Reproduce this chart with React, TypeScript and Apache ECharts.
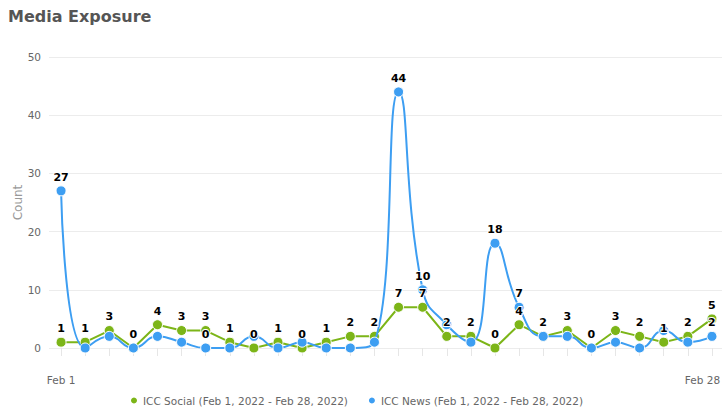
import React, { useEffect, useRef } from "react";
import * as echarts from "echarts";

const categories = [
  "Feb 1", "Feb 2", "Feb 3", "Feb 4", "Feb 5", "Feb 6", "Feb 7", "Feb 8", "Feb 9", "Feb 10",
  "Feb 11", "Feb 12", "Feb 13", "Feb 14", "Feb 15", "Feb 16", "Feb 17", "Feb 18", "Feb 19", "Feb 20",
  "Feb 21", "Feb 22", "Feb 23", "Feb 24", "Feb 25", "Feb 26", "Feb 27", "Feb 28",
];

const socialName = "ICC Social (Feb 1, 2022 - Feb 28, 2022)";
const newsName = "ICC News (Feb 1, 2022 - Feb 28, 2022)";

const socialValues = [1, 1, 3, 0, 4, 3, 3, 1, 0, 1, 0, 1, 2, 2, 7, 7, 2, 2, 0, 4, 2, 3, 0, 3, 2, 1, 2, 5];
const newsValues = [27, 0, 2, 0, 2, 1, 0, 0, 2, 0, 1, 0, 0, 1, 44, 10, 4, 1, 18, 7, 2, 2, 0, 1, 0, 3, 1, 2];

// indices of News points whose value label is visible in the reference
const newsLabelIndices = [0, 6, 14, 15, 18, 19, 27];

const yTicks = [0, 10, 20, 30, 40, 50];

const GREEN = "#7cb518";
const BLUE = "#3d9ef2";
const FONT = "DejaVu Sans";

export default function App() {
  const ref = useRef<HTMLDivElement>(null);

  useEffect(() => {
    if (!ref.current) return;
    const chart = echarts.init(ref.current, undefined, { renderer: "svg" });
    const labelStyle = {
      show: true,
      position: "top" as const,
      distance: 8,
      fontSize: 11,
      fontWeight: "bold" as const,
      color: "#000000",
      opacity: 1,
      textBorderColor: "#ffffff",
      textBorderWidth: 2,
      fontFamily: FONT,
    };
    const lastIndex = categories.length - 1;
    const labelSeries = (values: number[], visible: (i: number) => boolean) => ({
      type: "scatter",
      silent: true,
      symbol: "circle",
      symbolSize: 0.1,
      itemStyle: { color: "#ffffff", opacity: 1 },
      data: values.map((v, i) => ({ value: v, label: { show: visible(i) } })),
      label: labelStyle,
      z: 10,
      tooltip: { show: false },
    });
    chart.setOption({
      animation: false,
      textStyle: { fontFamily: FONT },
      title: {
        text: "Media Exposure",
        left: 8,
        top: 8,
        padding: 0,
        textStyle: { fontSize: 16, fontWeight: "bold", color: "#555", fontFamily: FONT },
      },
      legend: {
        left: 129,
        top: 395,
        padding: 0,
        icon: "circle",
        itemWidth: 8,
        itemHeight: 8,
        itemGap: 19,
        textStyle: { fontSize: 10.5, color: "#666", fontFamily: FONT },
        data: [socialName, newsName],
      },
      grid: {
        left: 49,
        top: 57,
        width: 675,
        height: 291,
        containLabel: false,
        outerBoundsMode: "none",
      },
      xAxis: {
        type: "category",
        data: categories,
        boundaryGap: true,
        axisLine: { show: false },
        axisTick: {
          show: true,
          alignWithLabel: true,
          interval: 0,
          length: 8,
          lineStyle: { color: "#e6e6e6" },
        },
        axisLabel: {
          interval: (i: number) => i === 0 || i === lastIndex,
          hideOverlap: false,
          margin: 26,
          fontSize: 10.5,
          color: "#666",
          fontFamily: FONT,
          formatter: (value: string, index: number) =>
            index === lastIndex ? `{last|${value}}` : value,
          rich: {
            last: {
              fontSize: 10.5,
              color: "#666",
              fontFamily: FONT,
              padding: [0, 19, 0, 0],
            },
          },
        },
        splitLine: { show: false },
      },
      yAxis: {
        type: "value",
        min: yTicks[0],
        max: yTicks[yTicks.length - 1],
        interval: 10,
        name: "Count",
        nameLocation: "middle",
        nameGap: 25,
        nameMoveOverlap: false,
        nameTextStyle: { fontSize: 12, color: "#999", fontFamily: FONT },
        axisLine: { show: false },
        axisTick: { show: false },
        axisLabel: { margin: 8, fontSize: 10.5, color: "#666", fontFamily: FONT },
        splitLine: { lineStyle: { color: "#ececec" } },
      },
      series: [
        {
          name: socialName,
          type: "line",
          data: socialValues,
          color: GREEN,
          symbol: "circle",
          symbolSize: 10,
          lineStyle: { width: 2, color: GREEN },
          itemStyle: { color: GREEN, borderColor: "#fff", borderWidth: 1 },
          label: { show: false },
          z: 2,
        },
        {
          name: newsName,
          type: "line",
          smooth: true,
          data: newsValues,
          color: BLUE,
          symbol: "circle",
          symbolSize: 10,
          lineStyle: { width: 2, color: BLUE },
          itemStyle: { color: BLUE, borderColor: "#fff", borderWidth: 1 },
          label: { show: false },
          z: 3,
        },
        labelSeries(socialValues, () => true),
        labelSeries(newsValues, (i) => newsLabelIndices.includes(i)),
      ],
    });
    return () => chart.dispose();
  }, []);

  return (
    <div
      ref={ref}
      style={{ position: "fixed", left: 0, top: 0, width: 722, height: 409, background: "#fff" }}
    />
  );
}
